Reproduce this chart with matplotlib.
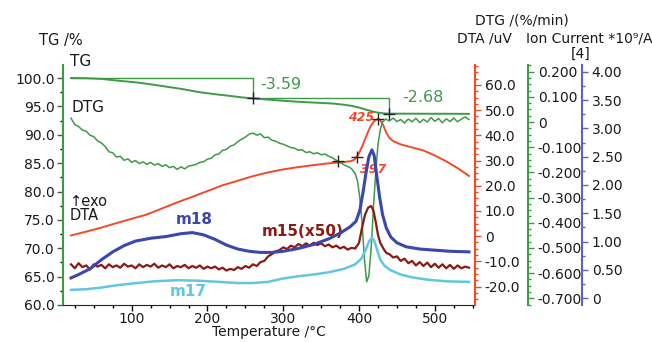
import matplotlib
matplotlib.use("Agg")
import matplotlib.pyplot as plt
from matplotlib.ticker import MultipleLocator, FixedLocator, FuncFormatter

plt.rcParams['font.family'] = ['DejaVu Sans']

# ---- thermogravimetry (TG, %) ----
tg_T = [20, 40, 60, 85, 105, 125, 145, 165, 190, 210, 230, 245, 260, 280, 300,
        322, 345, 366, 380, 390, 400, 410, 418, 425, 432, 439, 460, 490, 520, 545]
tg_val = [100.0, 99.97, 99.85, 99.5, 99.25, 98.9, 98.5, 98.1, 97.5, 97.15, 96.85,
          96.6, 96.41, 96.2, 96.0, 95.8, 95.65, 95.5, 95.3, 95.1, 94.8, 94.4, 94.1,
          93.9, 93.78, 93.73, 93.72, 93.71, 93.70, 93.69]
tg_step_T = [260, 439]
tg_steps = [-3.59, -2.68]

# ---- derivative (DTG, %/min) ----
dtg_T = [20, 25, 30, 35, 40, 45, 50, 55, 60, 65, 70, 75, 80, 85, 90, 95, 100, 105,
         110, 115, 120, 125, 130, 135, 140, 145, 150, 155, 160, 165, 170, 175, 180,
         185, 190, 195, 200, 205, 210, 215, 220, 225, 230, 235, 240, 245, 250, 255,
         260, 265, 270, 275, 280, 285, 290, 295, 300, 305, 310, 315, 320, 325, 330,
         335, 340, 345, 350, 355, 360, 365, 370, 375, 380, 385, 390, 395, 398, 401,
         404, 407, 410, 413, 416, 419, 422, 425, 428, 431, 435, 440, 445, 450, 455,
         460, 465, 470, 475, 480, 485, 490, 495, 500, 505, 510, 515, 520, 525, 530,
         535, 540, 545]
dtg_val = [0.015, -0.010, -0.018, -0.032, -0.036, -0.052, -0.058, -0.075, -0.083,
           -0.097, -0.118, -0.122, -0.139, -0.136, -0.152, -0.146, -0.160, -0.153,
           -0.165, -0.158, -0.168, -0.160, -0.171, -0.165, -0.176, -0.170, -0.181,
           -0.176, -0.188, -0.178, -0.186, -0.175, -0.172, -0.168, -0.160, -0.158,
           -0.147, -0.144, -0.130, -0.127, -0.112, -0.109, -0.096, -0.091, -0.078,
           -0.068, -0.060, -0.048, -0.044, -0.052, -0.047, -0.062, -0.060, -0.072,
           -0.076, -0.084, -0.088, -0.095, -0.101, -0.104, -0.112, -0.110, -0.121,
           -0.118, -0.126, -0.122, -0.130, -0.127, -0.136, -0.142, -0.152, -0.160,
           -0.170, -0.176, -0.185, -0.205, -0.235, -0.300, -0.400, -0.540, -0.635,
           -0.610, -0.500, -0.340, -0.200, -0.090, -0.030, 0.000, 0.012, 0.004,
           0.016, 0.002, 0.010, -0.004, 0.012, 0.001, 0.015, -0.002, 0.011, 0.000,
           0.018, 0.003, 0.014, -0.003, 0.013, 0.002, 0.016, 0.001, 0.012, 0.020,
           0.010]
dtg_mark_T = [372]
dtg_mark_val = [-0.155]

# ---- differential thermal analysis (DTA, uV) ----
dta_T = [20, 40, 60, 80, 100, 120, 140, 160, 180, 200, 220, 240, 260, 280, 300,
         320, 340, 360, 380, 390, 394, 397, 400, 404, 408, 412, 416, 420, 425, 428,
         432, 436, 440, 445, 455, 470, 485, 500, 515, 530, 545]
dta_val = [0.3, 1.8, 3.4, 5.2, 6.9, 8.6, 11.0, 13.4, 15.6, 17.9, 20.2, 22.0, 23.8,
           25.3, 26.5, 27.4, 28.2, 28.9, 29.4, 29.8, 30.4, 31.5, 33.0, 35.5, 38.5,
           41.5, 44.0, 45.7, 46.5, 46.0, 44.0, 41.0, 39.0, 37.7, 36.4, 35.2, 34.0,
           32.0, 29.7, 27.0, 23.9]
dta_mark_T = [397, 425]
dta_mark_val = [31.5, 46.5]

# ---- mass spectrometry ion currents (*1e9 A) ----
m18_T = [20, 30, 45, 60, 75, 90, 105, 125, 145, 165, 180, 195, 210, 225, 240, 255,
         270, 285, 300, 320, 340, 360, 375, 388, 396, 401, 405, 409, 413, 417, 420,
         423, 427, 431, 436, 442, 450, 462, 480, 500, 520, 545]
m18_val = [0.36, 0.42, 0.52, 0.68, 0.82, 0.93, 1.01, 1.06, 1.09, 1.14, 1.16, 1.12,
           1.04, 0.94, 0.87, 0.83, 0.81, 0.81, 0.83, 0.88, 0.95, 1.05, 1.15, 1.26,
           1.36, 1.55, 1.85, 2.20, 2.50, 2.62, 2.52, 2.20, 1.80, 1.48, 1.24, 1.08,
           0.98, 0.91, 0.87, 0.85, 0.83, 0.82]

m17_T = [20, 40, 60, 80, 100, 130, 160, 190, 215, 240, 260, 280, 300, 320, 340,
         360, 380, 395, 403, 409, 413, 417, 420, 424, 428, 434, 441, 455, 470, 490,
         515, 545]
m17_val = [0.15, 0.16, 0.19, 0.23, 0.26, 0.30, 0.32, 0.31, 0.29, 0.27, 0.27, 0.29,
           0.35, 0.39, 0.42, 0.46, 0.52, 0.60, 0.70, 0.86, 1.00, 1.07, 1.02, 0.85,
           0.68, 0.57, 0.50, 0.42, 0.37, 0.33, 0.30, 0.29]

m15_T = [20, 25, 30, 35, 40, 45, 50, 55, 60, 65, 70, 75, 80, 85, 90, 95, 100, 105,
         110, 115, 120, 125, 130, 135, 140, 145, 150, 155, 160, 165, 170, 175, 180,
         185, 190, 195, 200, 205, 210, 215, 220, 225, 230, 235, 240, 245, 250, 255,
         260, 265, 270, 275, 280, 285, 290, 295, 300, 305, 310, 315, 320, 325, 330,
         335, 340, 345, 350, 355, 360, 365, 370, 375, 380, 385, 390, 395, 400, 404,
         408, 412, 416, 419, 422, 425, 428, 432, 436, 440, 445, 450, 455, 460, 465,
         470, 475, 480, 485, 490, 495, 500, 505, 510, 515, 520, 525, 530, 535, 540,
         545]
m15_val = [0.60, 0.53, 0.62, 0.55, 0.58, 0.51, 0.60, 0.56, 0.59, 0.53, 0.60, 0.55,
           0.58, 0.54, 0.61, 0.56, 0.58, 0.53, 0.60, 0.55, 0.59, 0.56, 0.61, 0.54,
           0.58, 0.55, 0.60, 0.53, 0.57, 0.55, 0.59, 0.53, 0.57, 0.54, 0.58, 0.52,
           0.56, 0.53, 0.56, 0.51, 0.54, 0.49, 0.52, 0.50, 0.55, 0.52, 0.57, 0.54,
           0.60, 0.57, 0.64, 0.66, 0.74, 0.78, 0.83, 0.85, 0.90, 0.87, 0.93, 0.90,
           0.96, 0.92, 0.97, 0.93, 0.98, 0.94, 0.97, 0.92, 0.95, 0.90, 0.93, 0.88,
           0.91, 0.86, 0.89, 0.88, 0.98, 1.25, 1.48, 1.60, 1.63, 1.55, 1.35, 1.12,
           0.98, 0.88, 0.80, 0.78, 0.72, 0.74, 0.66, 0.70, 0.62, 0.66, 0.58, 0.64,
           0.57, 0.63, 0.55, 0.61, 0.54, 0.60, 0.53, 0.59, 0.52, 0.58, 0.53, 0.56,
           0.54]

x_ticks = [100, 200, 300, 400, 500]

GREEN = '#3d9a47'
RED = '#f24a28'
BLUE = '#3b46ae'
BLUE_AX = '#5c64c0'
DARKRED = '#8b1a14'
CYAN = '#62c6e2'
TXT = '#1a1a1a'

fig = plt.figure(figsize=(6.52, 3.42), dpi=100)
ax = fig.add_axes([63 / 652, 37 / 342, 412 / 652, 240 / 342])

ax.set_xlim(9.4, 553)
ax.set_ylim(60, 102.3)

def fmt(decimals):
    def f(v, pos):
        if abs(v) < 1e-9:
            return '0'
        return f'{v:.{decimals}f}'
    return FuncFormatter(f)

tick_kw = dict(labelsize=10, labelcolor=TXT, direction='out')

# main axis: TG
ax.spines['top'].set_visible(False)
ax.spines['right'].set_visible(False)
ax.spines['left'].set_color(GREEN)
ax.spines['left'].set_linewidth(1.5)
ax.spines['bottom'].set_color('#222222')
ax.xaxis.set_major_locator(FixedLocator(x_ticks))
ax.xaxis.set_minor_locator(MultipleLocator(25))
ax.yaxis.set_major_locator(MultipleLocator(5))
ax.yaxis.set_minor_locator(MultipleLocator(2.5))
ax.yaxis.set_major_formatter(fmt(1))
ax.tick_params(axis='both', which='major', length=4, width=1, pad=2, **tick_kw)
ax.tick_params(axis='x', which='major', pad=1)
ax.tick_params(axis='both', which='minor', length=2.5, width=1)
ax.tick_params(axis='y', colors='#555555', labelcolor=TXT)
ax.set_xlabel('Temperature /°C', fontsize=10, color=TXT, labelpad=-1)

ax.plot(tg_T, tg_val, color=GREEN, lw=1.4, zorder=3)

# TG step annotations
lv0 = tg_val[0]
lv1 = lv0 + tg_steps[0]
lv2 = lv1 + tg_steps[1]
ax.plot([tg_T[0], tg_step_T[0], tg_step_T[0]], [lv0, lv0, lv1], color=GREEN, lw=1.0)
ax.plot([tg_step_T[0], tg_step_T[1], tg_step_T[1]], [lv1, lv1, lv2], color=GREEN, lw=1.0)
ax.plot(tg_step_T, [lv1, lv2], '+', color='#222222', ms=8, mew=1.0, zorder=6)
ax.text(0.529, 0.917, f'{tg_steps[0]:.2f}', transform=ax.transAxes, color=GREEN,
        fontsize=11.5, ha='center', va='center')
ax.text(0.874, 0.8625, f'{tg_steps[1]:.2f}', transform=ax.transAxes, color=GREEN,
        fontsize=11.5, ha='center', va='center')

# DTA axis
ax_dta = ax.twinx()
ax_dta.set_ylim(-27.3, 67.9)
for s in ['top', 'left', 'bottom']:
    ax_dta.spines[s].set_visible(False)
ax_dta.spines['right'].set_color(RED)
ax_dta.spines['right'].set_linewidth(1.5)
ax_dta.yaxis.set_major_locator(MultipleLocator(10))
ax_dta.yaxis.set_minor_locator(MultipleLocator(2.5))
ax_dta.yaxis.set_major_formatter(fmt(1))
ax_dta.tick_params(axis='y', which='major', length=4, width=1, colors=RED, pad=3, **tick_kw)
ax_dta.tick_params(axis='y', which='minor', length=2.5, width=1, colors=RED)
ax_dta.plot(dta_T, dta_val, color=RED, lw=1.4, zorder=3)
ax_dta.plot(dta_mark_T, dta_mark_val, '+', color='#222222', ms=8, mew=1.0, zorder=6)
ax_dta.text(dta_mark_T[1] - 5, dta_mark_val[1] + 0.5, f'{dta_mark_T[1]}', color=RED,
            fontsize=9, fontweight='bold', fontstyle='italic', ha='right', va='center')
ax_dta.text(0.752, 0.563, f'{dta_mark_T[0]}', transform=ax_dta.transAxes, color=RED,
            fontsize=9, fontweight='bold', fontstyle='italic', ha='center', va='center')

# DTG axis
ax_dtg = ax.twinx()
ax_dtg.set_ylim(-0.7266, 0.2266)
for s in ['top', 'left', 'bottom']:
    ax_dtg.spines[s].set_visible(False)
ax_dtg.spines['right'].set_position(('axes', 1.1286))
ax_dtg.spines['right'].set_color(GREEN)
ax_dtg.spines['right'].set_linewidth(1.5)
ax_dtg.yaxis.set_major_locator(FixedLocator([-0.7, -0.6, -0.5, -0.4, -0.3, -0.2, -0.1, 0.0, 0.1, 0.2]))
ax_dtg.yaxis.set_minor_locator(MultipleLocator(0.025))
ax_dtg.yaxis.set_major_formatter(fmt(3))
ax_dtg.tick_params(axis='y', which='major', length=4, width=1, colors=GREEN, pad=3, **tick_kw)
ax_dtg.tick_params(axis='y', which='minor', length=2.5, width=1, colors=GREEN)
ax_dtg.plot(dtg_T, dtg_val, color=GREEN, lw=1.1, zorder=3)
ax_dtg.plot(dtg_mark_T, dtg_mark_val, '+', color='#222222', ms=8, mew=1.0, zorder=6)

# ion current axis
ax_ion = ax.twinx()
ax_ion.set_ylim(-0.118, 4.118)
for s in ['top', 'left', 'bottom']:
    ax_ion.spines[s].set_visible(False)
ax_ion.spines['right'].set_position(('axes', 1.2597))
ax_ion.spines['right'].set_color(BLUE_AX)
ax_ion.spines['right'].set_linewidth(1.5)
ax_ion.yaxis.set_major_locator(MultipleLocator(0.5))
ax_ion.yaxis.set_minor_locator(MultipleLocator(0.25))
ax_ion.yaxis.set_major_formatter(fmt(2))
ax_ion.tick_params(axis='y', which='major', length=4, width=1, colors=BLUE_AX, pad=3, **tick_kw)
ax_ion.tick_params(axis='y', which='minor', length=2.5, width=1, colors=BLUE_AX)
ax_ion.plot(m17_T, m17_val, color=CYAN, lw=1.8, zorder=3)
ax_ion.plot(m15_T, m15_val, color=DARKRED, lw=1.6, zorder=4)
ax_ion.plot(m18_T, m18_val, color=BLUE, lw=2.2, zorder=5)

# curve labels inside the plot
lab = dict(transform=ax.transAxes, clip_on=False, va='center')
ax.text(0.017, 1.0125, 'TG', fontsize=11, color=TXT, ha='left', **lab)
ax.text(0.0218, 0.821, 'DTG', fontsize=11, color=TXT, ha='left', **lab)
ax.text(0.017, 0.433, '↑exo', fontsize=10.5, color=TXT, ha='left', **lab)
ax.text(0.017, 0.375, 'DTA', fontsize=10.5, color=TXT, ha='left', **lab)
ax.text(0.318, 0.358, 'm18', fontsize=11, fontweight='bold', color=BLUE, ha='center', **lab)
ax.text(0.5825, 0.308, 'm15(x50)', fontsize=11, fontweight='bold', color=DARKRED, ha='center', **lab)
ax.text(0.303, 0.058, 'm17', fontsize=11, fontweight='bold', color=CYAN, ha='center', **lab)

# axis titles
fig.text(61 / 652, 1 - 40 / 342, 'TG /%', fontsize=10.5, color=TXT, ha='center', va='center')
fig.text(522 / 652, 1 - 21 / 342, 'DTG /(%/min)', fontsize=10, color=TXT, ha='center', va='center')
fig.text(484 / 652, 1 - 38 / 342, 'DTA /uV', fontsize=10, color=TXT, ha='center', va='center')
fig.text(589 / 652, 1 - 38 / 342, 'Ion Current *10⁹/A', fontsize=10, color=TXT, ha='center', va='center')
fig.text(581 / 652, 1 - 54 / 342, '[4]', fontsize=10, color=TXT, ha='center', va='center')

fig.savefig('out.png', dpi=100)
